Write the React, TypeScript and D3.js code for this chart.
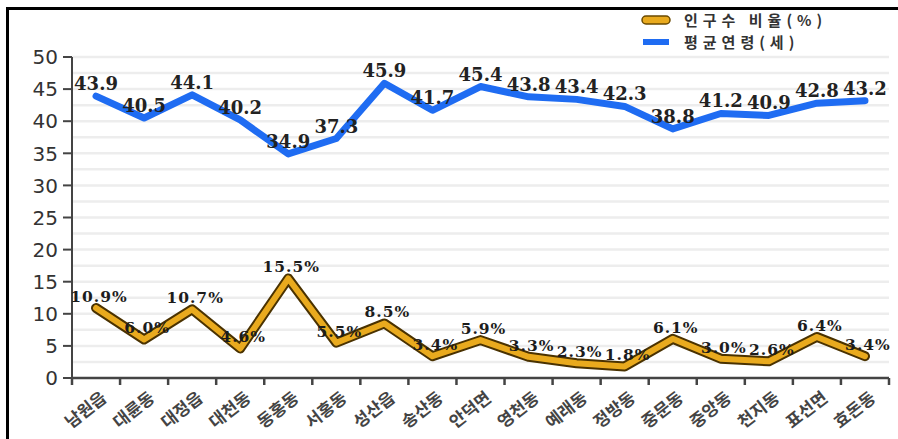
import React from "react";
import * as d3 from "d3";

const categories = ["남원읍", "대륜동", "대정읍", "대천동", "동홍동", "서홍동", "성산읍", "송산동", "안덕면", "영천동", "예래동", "정방동", "중문동", "중앙동", "천지동", "표선면", "효돈동"];
const avgAge = [43.9, 40.5, 44.1, 40.2, 34.9, 37.3, 45.9, 41.7, 45.4, 43.8, 43.4, 42.3, 38.8, 41.2, 40.9, 42.8, 43.2];
const popRatio = [10.9, 6.0, 10.7, 4.6, 15.5, 5.5, 8.5, 3.4, 5.9, 3.3, 2.3, 1.8, 6.1, 3.0, 2.6, 6.4, 3.4];
const yTicks = [0, 5, 10, 15, 20, 25, 30, 35, 40, 45, 50];
const gridValues = d3.range(2.5, 50.01, 2.5);
const legendLabels = ["인구수 비율(%)", "평균연령(세)"];

const W = 898, H = 439;
const left = 72, right = 889, top = 57, bottom = 378;

export default function App() {
  const x = d3.scaleBand<string>().domain(categories).range([left, right]).padding(0);
  const y = d3.scaleLinear().domain([0, 50]).range([bottom, top]);
  const cx = (c: string) => (x(c) as number) + x.bandwidth() / 2;
  const line = d3.line<number>().x((_, i) => cx(categories[i])).y((d) => y(d)).curve(d3.curveLinear);
  const edges = categories.map((c) => x(c) as number).concat([right]);

  return (
    <svg width={W} height={H} style={{ position: "absolute", left: 0, top: 0, background: "#fff" }}>
      {/* frame */}
      <line x1={7.5} x2={7.5} y1={7} y2={H} stroke="#000" strokeWidth={3} />
      <line x1={6} x2={W} y1={8.5} y2={8.5} stroke="#000" strokeWidth={3} />

      {/* grid */}
      {gridValues.map((v) => (
        <line key={v} x1={left} x2={right} y1={y(v)} y2={y(v)} stroke="#ededed" strokeWidth={2.5} />
      ))}

      {/* y axis */}
      <line x1={left} x2={left} y1={top} y2={bottom} stroke="#444" strokeWidth={2} />
      {yTicks.map((t) => (
        <g key={t}>
          <line x1={left - 9} x2={left} y1={y(t)} y2={y(t)} stroke="#444" strokeWidth={2} />
          <text x={left - 14} y={y(t)} dy="0.36em" textAnchor="end" fontFamily="DejaVu Sans" fontSize={20} fill="#333">{t}</text>
        </g>
      ))}

      {/* x axis */}
      <line x1={left} x2={right} y1={bottom} y2={bottom} stroke="#444" strokeWidth={2.5} />
      {edges.map((e, i) => (
        <line key={i} x1={e} x2={e} y1={bottom} y2={bottom + 7} stroke="#444" strokeWidth={2.5} />
      ))}
      {categories.map((c) => (
        <text key={c} transform={`translate(${cx(c) + 4},${bottom + 12}) rotate(-38)`} textAnchor="end" dy="0.75em"
          fontFamily="Noto Sans CJK KR" fontWeight={700} fontSize={17} fill="#444">{c}</text>
      ))}

      {/* population ratio line */}
      <path d={line(popRatio) as string} fill="none" stroke="#4a3200" strokeWidth={10} strokeLinejoin="round" strokeLinecap="round" />
      <path d={line(popRatio) as string} fill="none" stroke="#e9aa1e" strokeWidth={6} strokeLinejoin="round" strokeLinecap="round" />

      {/* average age line */}
      <path d={line(avgAge) as string} fill="none" stroke="#1f6cf2" strokeWidth={7} strokeLinejoin="round" strokeLinecap="round" />

      {/* labels */}
      {avgAge.map((v, i) => (
        <text key={"a" + i} x={cx(categories[i])} y={y(v) - 6} textAnchor="middle" fontFamily="DejaVu Serif" fontWeight={700} fontSize={18} fill="#222">{v.toFixed(1)}</text>
      ))}
      {popRatio.map((v, i) => (
        <text key={"p" + i} x={cx(categories[i]) + 3} y={y(v) - 6} textAnchor="middle" fontFamily="DejaVu Serif" fontWeight={700} fontSize={15.5} letterSpacing={1} fill="#1c1c1c">{v.toFixed(1) + "%"}</text>
      ))}

      {/* legend */}
      <rect x={642} y={16} width={28} height={8} rx={4} fill="#e9aa1e" stroke="#6a4a00" strokeWidth={1.5} />
      <text x={684} y={26} fontFamily="Noto Sans CJK KR" fontWeight={700} fontSize={15} letterSpacing={5} fill="#333">{legendLabels[0]}</text>
      <rect x={643} y={39} width={26} height={6} fill="#1f6cf2" />
      <text x={684} y={48} fontFamily="Noto Sans CJK KR" fontWeight={700} fontSize={15} letterSpacing={5} fill="#333">{legendLabels[1]}</text>
    </svg>
  );
}
